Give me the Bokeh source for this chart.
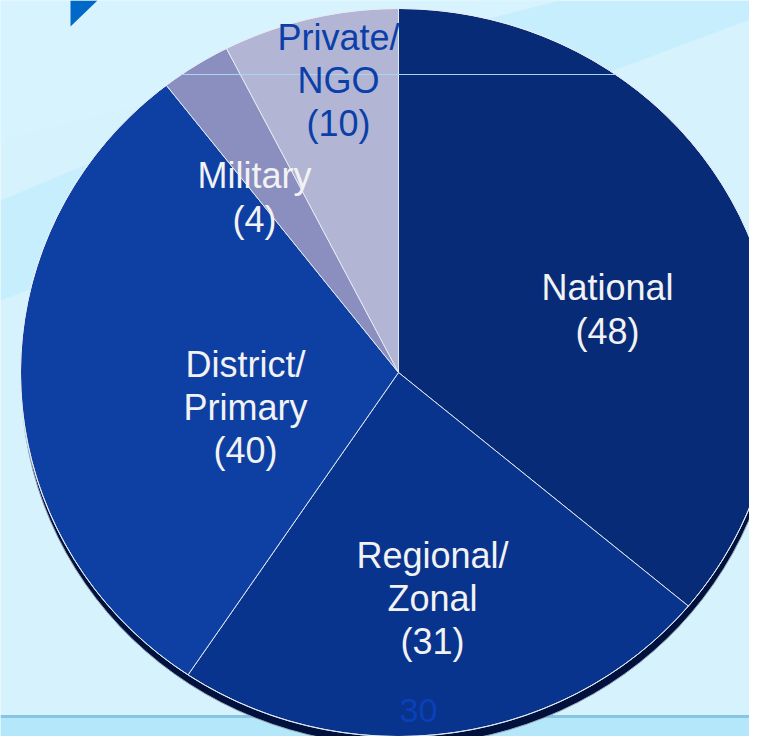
import numpy as np
from bokeh.plotting import figure
from bokeh.models import Range1d, ColumnDataSource
from bokeh.core.properties import value
from bokeh.embed import file_html
from bokeh.resources import INLINE

# ---------------- data ----------------
categories = ["National", "Regional/Zonal", "District/Primary", "Military", "Private/NGO"]
label_names = ["National", "Regional/\nZonal", "District/\nPrimary", "Military", "Private/\nNGO"]
counts = [48, 31, 40, 4, 10]
slice_colors = ["#082B78", "#08348E", "#0E40A4", "#8A8FBF", "#B2B5D3"]
label_colors = ["#F2F2F2", "#F2F2F2", "#F2F2F2", "#F2F2F2", "#0A3FAA"]
page_number = "30"

# ---------------- layout (reference pixel frame) ----------------
W_FIG, H_FIG = 749, 736
H_REF = 752
CX, CY = 398, 372          # pie centre
RX, RY = 378, 364          # pie radii (slightly tilted)
label_pos = [(607, 309), (432, 598), (245, 407), (254, 197), (338, 80)]


def Y(yr):
    return H_REF - yr


p = figure(width=W_FIG, height=H_FIG, output_backend="svg", toolbar_location=None,
           x_range=Range1d(0, W_FIG), y_range=Range1d(Y(H_FIG), Y(0)),
           min_border=0, outline_line_color=None)
p.axis.visible = False
p.grid.visible = False
bg = "#D5F2FD"
p.background_fill_color = bg
p.border_fill_color = bg

# background decoration: diagonal band and bottom strip
p.patch([0, 480, 800, 0], [Y(200), Y(0), Y(0), Y(300)], fill_color="#C6EEFC", line_color=None)
p.patch([0, 560, 0], [Y(0), Y(0), Y(140)], fill_color="#D7F3FD", line_color=None)
p.quad(left=0, right=800, top=Y(716), bottom=Y(H_REF), fill_color="#B3E7F9", line_color=None)
p.segment(x0=[0], y0=[Y(716)], x1=[800], y1=[Y(716)], line_color="#86C5E6", line_width=3)

# top-left triangle
p.patch([70, 97, 70], [Y(0), Y(0), Y(26)], fill_color="#0068C6", line_color=None)

# shadow
p.ellipse(x=[CX + 1], y=[Y(CY + 9)], width=[2 * RX], height=[2 * RY],
          fill_color="#00113E", line_color="#9AA6BC", line_width=1)

# slices
total = sum(counts)
cum = np.concatenate([[0], np.cumsum(counts)]) / total * 360.0
xs, ys = [], []
for i in range(len(counts)):
    th = np.radians(np.linspace(cum[i], cum[i + 1], 200))
    x = CX + RX * np.sin(th)
    yr = CY - RY * np.cos(th)
    xs.append(np.concatenate([[CX], x]).tolist())
    ys.append(np.concatenate([[Y(CY)], Y(yr)]).tolist())

src = ColumnDataSource(dict(xs=xs, ys=ys, color=slice_colors, name=categories, count=counts))
p.patches("xs", "ys", source=src, fill_color="color", line_color="#E6ECF5", line_width=1)

# outline
p.ellipse(x=[CX], y=[Y(CY)], width=[2 * RX], height=[2 * RY],
          fill_color=None, line_color="#E6ECF5", line_width=1)

# thin horizontal line across the top of the pie
y_line = 74
half = RX * np.sqrt(max(0.0, 1 - ((y_line - CY) / RY) ** 2))
p.segment(x0=[CX - half], y0=[Y(y_line)], x1=[CX + half], y1=[Y(y_line)],
          line_color="#A9D6EE", line_width=1)

# labels
texts = [f"{n}\n({c})" for n, c in zip(label_names, counts)]
lsrc = ColumnDataSource(dict(x=[q[0] for q in label_pos], y=[Y(q[1]) for q in label_pos],
                             text=texts, color=label_colors))
p.text(x="x", y="y", text="text", source=lsrc, text_color="color",
       text_align="center", text_baseline="middle",
       text_font=value("Liberation Sans"), text_font_size="36px", text_line_height=1.05)

# page number
p.text(x=[418], y=[Y(710)], text=[page_number], text_color="#0A40B8",
       text_align="center", text_baseline="middle",
       text_font=value("Liberation Sans"), text_font_size="34px")

open("out.html", "w").write(file_html(p, INLINE))
